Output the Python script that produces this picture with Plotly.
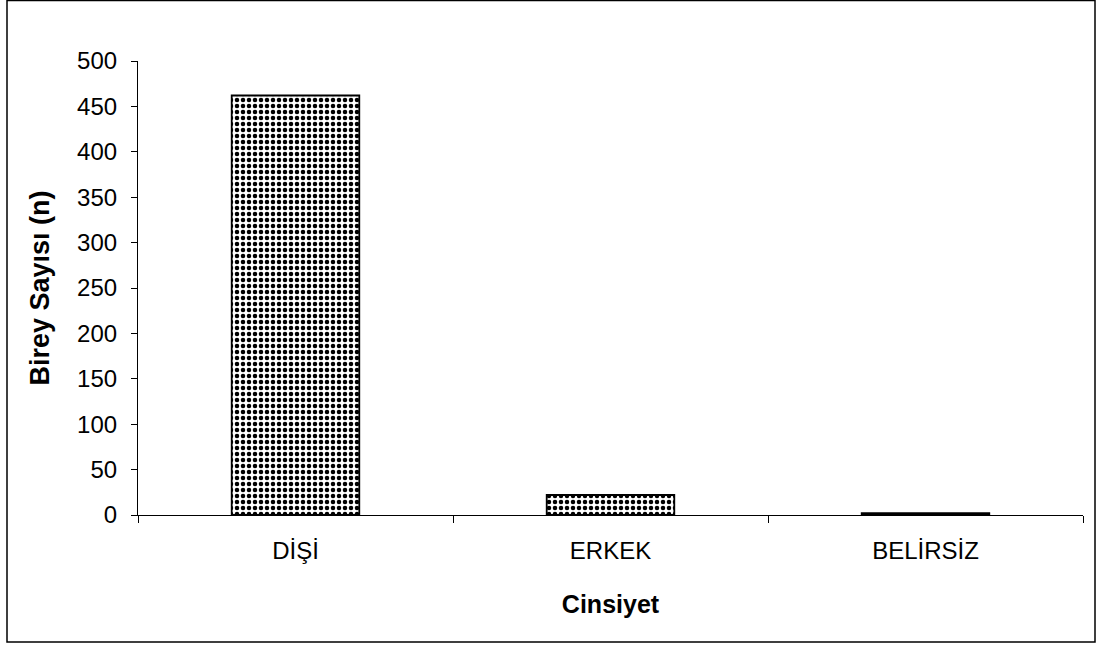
import plotly.graph_objects as go

categories = ["DİŞİ", "ERKEK", "BELİRSİZ"]
counts = [462, 22, 2]
y_ticks = [0, 50, 100, 150, 200, 250, 300, 350, 400, 450, 500]

W, H = 1096, 645
L, R, T, B = 138, 1083, 61, 515
pw, ph = R - L, B - T

fig = go.Figure(go.Bar(
    x=categories, y=counts, width=0.405,
    marker=dict(
        color="white",
        line=dict(color="black", width=1.8),
        pattern=dict(shape=".", fgcolor="black", bgcolor="white", size=6, solidity=0.45, fillmode="replace"),
    ),
))

family = "Liberation Sans, Arial, sans-serif"
tick_font = dict(family=family, size=24, color="black")

fig.update_layout(
    width=W, height=H,
    margin=dict(l=L, r=W - R, t=T, b=H - B, autoexpand=False),
    plot_bgcolor="white", paper_bgcolor="white",
    showlegend=False, font=tick_font,
    xaxis=dict(
        showline=True, linecolor="black", linewidth=1.2,
        ticks="outside", ticklen=7, tickcolor="black", tickwidth=1.2,
        tickson="boundaries", showgrid=False, automargin=False,
        ticklabelstandoff=14, tickfont=tick_font,
        title=dict(text="<b>Cinsiyet</b>", font=dict(family=family, size=25, color="black"), standoff=32),
    ),
    yaxis=dict(
        range=[0, 500], tickvals=y_ticks,
        showline=True, linecolor="black", linewidth=1.2,
        ticks="outside", ticklen=6, tickcolor="black", tickwidth=1.2,
        showgrid=False, zeroline=False, automargin=False,
        ticklabelstandoff=9, tickfont=tick_font,
        title=dict(text="<b>Birey Sayısı (n)</b>", font=dict(family=family, size=27, color="black"), standoff=19),
    ),
    shapes=[dict(
        type="rect", xref="paper", yref="paper",
        x0=(7 - L) / pw, x1=(1095 - L) / pw,
        y0=(B - 642) / ph, y1=(B - 0.5) / ph,
        line=dict(color="black", width=1.5), fillcolor="rgba(0,0,0,0)", layer="below",
    )],
)

fig.write_html("out.html")
